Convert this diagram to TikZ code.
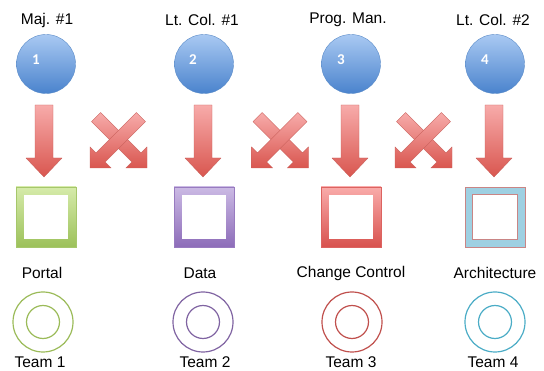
\documentclass[tikz,border=0pt]{standalone}
\usepackage{fontspec}
\setmainfont{Liberation Sans}
\newfontfamily\numfont{Carlito}
\definecolor{ballT}{HTML}{A9C9F2}
\definecolor{ballB}{HTML}{4A83CD}
\definecolor{ballD}{HTML}{5A8BC8}
\definecolor{arrT}{HTML}{F7ABAA}
\definecolor{arrB}{HTML}{D9564F}
\definecolor{arrD}{HTML}{C9605B}
\definecolor{grT}{HTML}{D6EBAA}
\definecolor{grB}{HTML}{9CC15A}
\definecolor{puT}{HTML}{CBBAE4}
\definecolor{puB}{HTML}{8D6CB9}
\definecolor{reT}{HTML}{F9ABAA}
\definecolor{reB}{HTML}{D8524E}
\definecolor{aqF}{HTML}{9ED0E2}
\definecolor{aqE}{HTML}{C98585}
\definecolor{cGreen}{HTML}{9BBB59}
\definecolor{cPurple}{HTML}{8064A2}
\definecolor{cRed}{HTML}{C0504D}
\definecolor{cAqua}{HTML}{4BACC6}
\tikzset{
  lbl/.style={font=\fontsize{15.5}{18}\selectfont, inner sep=0pt, text=black},
  ball/.style={circle, minimum size=59pt, inner sep=0pt, top color=ballT, bottom color=ballB, draw=ballD, line width=0.4pt},
  num/.style={font=\numfont\bfseries\fontsize{15}{17}\selectfont, text=white, inner sep=0pt},
  sqbox/.style={rectangle, minimum size=60pt, inner sep=0pt, draw=#1!90!white, line width=0.3pt},
  sqhole/.style={rectangle, minimum size=44pt, inner sep=0pt, fill=white},
  ring/.style={circle, minimum size=60pt, inner sep=0pt, draw=#1, line width=1.2pt},
  innerring/.style={circle, minimum size=33pt, inner sep=0pt, draw=#1, line width=1.2pt},
  arrowfill/.style={top color=arrT, bottom color=arrB, draw=arrD, line width=0.4pt, line join=round},
  downarrow/.pic={
    \shade[arrowfill] (-9,-36) -- (9,-36) -- (9,17) -- (18,17) -- (0,36) -- (-18,17) -- (-9,17) -- cycle;
  },
  crossarrows/.pic={
    % arrow pointing down-right
    \shade[arrowfill] (28.5,28) -- (28.5,6.8) -- (22.5,12.8) -- (-17.8,-27.5) -- (-27,-18.3) -- (13.3,22) -- (7.3,28) -- cycle;
    % arrow pointing down-left (on top)
    \shade[arrowfill] (-28.5,28) -- (-28.5,6.8) -- (-22.5,12.8) -- (17.8,-27.5) -- (27,-18.3) -- (-13.3,22) -- (-7.3,28) -- cycle;
  }
}
\begin{document}
\begin{tikzpicture}[x=1pt,y=-1pt]
\useasboundingbox (0,0) rectangle (544,371);
% top labels
\node[lbl] (l1) at (47,20) {Maj. \#1};
\node[lbl] (l2) at (202,20) {Lt. Col. \#1};
\node[lbl] (l3) at (348,20) {Prog. Man.};
\node[lbl] (l4) at (493,20) {Lt. Col. \#2};
% balls
\node[ball] (b1) at (46,64) {};
\node[ball] (b2) at (204,64) {};
\node[ball] (b3) at (351,64) {};
\node[ball] (b4) at (495,64) {};
\node[num] (n1) at (36,60) {1};
\node[num] (n2) at (193,60) {2};
\node[num] (n3) at (341,60) {3};
\node[num] (n4) at (485,60) {4};
% arrows
\pic (d1) at (44,141) {downarrow};
\pic (d2) at (203,141) {downarrow};
\pic (d3) at (350,141) {downarrow};
\pic (d4) at (494,141) {downarrow};
\pic (x1) at (118.5,140) {crossarrows};
\pic (x2) at (280,140) {crossarrows};
\pic (x3) at (423.5,140) {crossarrows};
% squares
\node[sqbox=grB, top color=grT, bottom color=grB] (s1) at (46,217) {};
\node[sqhole] (h1) at (46,217) {};
\node[sqbox=puB, top color=puT, bottom color=puB] (s2) at (204,217) {};
\node[sqhole] (h2) at (204,217) {};
\node[sqbox=reB, top color=reT, bottom color=reB] (s3) at (351,217) {};
\node[sqhole] (h3) at (351,217) {};
\node[rectangle, minimum size=60pt, inner sep=0pt, fill=aqF, draw=aqE, line width=0.9pt] (s4) at (495,217) {};
\node[sqhole, draw=aqE, line width=0.9pt, minimum size=45pt] (h4) at (495,217) {};
% bottom labels
\node[lbl] (p1) at (42,273) {Portal};
\node[lbl] (p2) at (200,273) {Data};
\node[lbl] (p3) at (351,273) {Change Control};
\node[lbl] (p4) at (495,273) {Architecture};
% team rings
\node[ring=cGreen] (r1) at (43,322) {};
\node[innerring=cGreen] (i1) at (43,322) {};
\node[ring=cPurple] (r2) at (203,322) {};
\node[innerring=cPurple] (i2) at (203,322) {};
\node[ring=cRed] (r3) at (352,322) {};
\node[innerring=cRed] (i3) at (352,322) {};
\node[ring=cAqua] (r4) at (495,322) {};
\node[innerring=cAqua] (i4) at (495,322) {};
% team labels
\node[lbl] (t1) at (40,362) {Team 1};
\node[lbl] (t2) at (205,362) {Team 2};
\node[lbl] (t3) at (351,362) {Team 3};
\node[lbl] (t4) at (493,362) {Team 4};
\end{tikzpicture}
\end{document}
